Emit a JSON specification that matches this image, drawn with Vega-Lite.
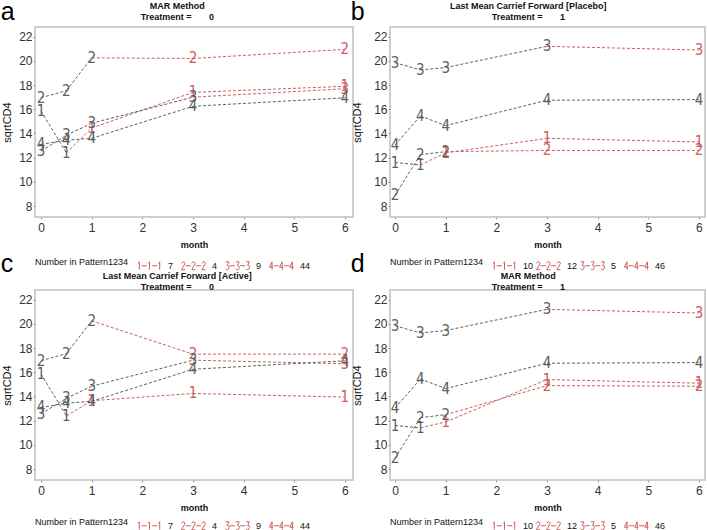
{
  "$schema": "https://vega.github.io/schema/vega-lite/v6.json",
  "padding": {"left": 0, "top": 0, "right": 0, "bottom": 0},
  "config": {
    "view": {"stroke": "#cfcfcf", "strokeWidth": 2},
    "font": "Liberation Sans",
    "title": {"font": "Liberation Sans", "fontSize": 9, "fontWeight": "bold", "color": "#111", "subtitleFont": "Liberation Sans", "subtitleFontSize": 9, "subtitleFontWeight": "bold", "subtitleColor": "#111", "subtitlePadding": 2},
    "axis": {"labelFont": "Liberation Sans", "labelFontSize": 12, "labelColor": "#333", "tickColor": "#999", "tickSize": 2, "domain": false, "grid": false, "titleFont": "Liberation Sans", "titleColor": "#111"},
    "axisX": {"labelPadding": 3, "titleFontSize": 9, "titleFontWeight": "bold", "titlePadding": 7},
    "axisY": {"labelPadding": 1, "titleFontSize": 11, "titleFontWeight": "normal", "titlePadding": 6},
    "legend": {"orient": "bottom", "direction": "horizontal", "titleOrient": "left", "titleFont": "Liberation Sans", "titleFontSize": 9, "titleFontWeight": "normal", "titleColor": "#111", "labelFont": "Liberation Sans", "labelFontSize": 9, "labelColor": "#111", "symbolSize": 576, "symbolStrokeWidth": 1, "symbolStrokeColor": "#cc6060", "symbolFillColor": "transparent", "symbolOpacity": 1, "labelOffset": 6, "columnPadding": 0, "gridAlign": "all", "offset": 3, "titlePadding": 8}
  },
  "data": {"values": [
    {"p":"a","pat":1,"n":7,"m":0,"v":15.85,"s":"obs"},
    {"p":"a","pat":1,"n":7,"m":0.5,"v":12.4,"s":"obs"},
    {"p":"a","pat":1,"n":7,"m":1,"v":14.45,"s":"imp"},
    {"p":"a","pat":1,"n":7,"m":3,"v":17.4,"s":"imp"},
    {"p":"a","pat":1,"n":7,"m":6,"v":17.9,"s":"imp"},
    {"p":"a","pat":2,"n":4,"m":0,"v":16.95,"s":"obs"},
    {"p":"a","pat":2,"n":4,"m":0.5,"v":17.55,"s":"obs"},
    {"p":"a","pat":2,"n":4,"m":1,"v":20.25,"s":"obs"},
    {"p":"a","pat":2,"n":4,"m":3,"v":20.2,"s":"imp"},
    {"p":"a","pat":2,"n":4,"m":6,"v":20.95,"s":"imp"},
    {"p":"a","pat":3,"n":9,"m":0,"v":12.55,"s":"obs"},
    {"p":"a","pat":3,"n":9,"m":0.5,"v":13.85,"s":"obs"},
    {"p":"a","pat":3,"n":9,"m":1,"v":14.85,"s":"obs"},
    {"p":"a","pat":3,"n":9,"m":3,"v":17.0,"s":"obs"},
    {"p":"a","pat":3,"n":9,"m":6,"v":17.7,"s":"imp"},
    {"p":"a","pat":4,"n":44,"m":0,"v":13.1,"s":"obs"},
    {"p":"a","pat":4,"n":44,"m":0.5,"v":13.45,"s":"obs"},
    {"p":"a","pat":4,"n":44,"m":1,"v":13.6,"s":"obs"},
    {"p":"a","pat":4,"n":44,"m":3,"v":16.25,"s":"obs"},
    {"p":"a","pat":4,"n":44,"m":6,"v":16.95,"s":"obs"},

    {"p":"b","pat":1,"n":10,"m":0,"v":11.6,"s":"obs"},
    {"p":"b","pat":1,"n":10,"m":0.5,"v":11.4,"s":"obs"},
    {"p":"b","pat":1,"n":10,"m":1,"v":12.4,"s":"imp"},
    {"p":"b","pat":1,"n":10,"m":3,"v":13.6,"s":"imp"},
    {"p":"b","pat":1,"n":10,"m":6,"v":13.3,"s":"imp"},
    {"p":"b","pat":2,"n":12,"m":0,"v":8.9,"s":"obs"},
    {"p":"b","pat":2,"n":12,"m":0.5,"v":12.25,"s":"obs"},
    {"p":"b","pat":2,"n":12,"m":1,"v":12.5,"s":"obs"},
    {"p":"b","pat":2,"n":12,"m":3,"v":12.6,"s":"imp"},
    {"p":"b","pat":2,"n":12,"m":6,"v":12.6,"s":"imp"},
    {"p":"b","pat":3,"n":5,"m":0,"v":19.85,"s":"obs"},
    {"p":"b","pat":3,"n":5,"m":0.5,"v":19.25,"s":"obs"},
    {"p":"b","pat":3,"n":5,"m":1,"v":19.45,"s":"obs"},
    {"p":"b","pat":3,"n":5,"m":3,"v":21.2,"s":"obs"},
    {"p":"b","pat":3,"n":5,"m":6,"v":20.9,"s":"imp"},
    {"p":"b","pat":4,"n":46,"m":0,"v":13.05,"s":"obs"},
    {"p":"b","pat":4,"n":46,"m":0.5,"v":15.45,"s":"obs"},
    {"p":"b","pat":4,"n":46,"m":1,"v":14.65,"s":"obs"},
    {"p":"b","pat":4,"n":46,"m":3,"v":16.75,"s":"obs"},
    {"p":"b","pat":4,"n":46,"m":6,"v":16.8,"s":"obs"},

    {"p":"c","pat":1,"n":7,"m":0,"v":15.85,"s":"obs"},
    {"p":"c","pat":1,"n":7,"m":0.5,"v":12.4,"s":"obs"},
    {"p":"c","pat":1,"n":7,"m":1,"v":13.65,"s":"imp"},
    {"p":"c","pat":1,"n":7,"m":3,"v":14.25,"s":"imp"},
    {"p":"c","pat":1,"n":7,"m":6,"v":13.95,"s":"imp"},
    {"p":"c","pat":2,"n":4,"m":0,"v":16.95,"s":"obs"},
    {"p":"c","pat":2,"n":4,"m":0.5,"v":17.55,"s":"obs"},
    {"p":"c","pat":2,"n":4,"m":1,"v":20.25,"s":"obs"},
    {"p":"c","pat":2,"n":4,"m":3,"v":17.5,"s":"imp"},
    {"p":"c","pat":2,"n":4,"m":6,"v":17.5,"s":"imp"},
    {"p":"c","pat":3,"n":9,"m":0,"v":12.55,"s":"obs"},
    {"p":"c","pat":3,"n":9,"m":0.5,"v":13.85,"s":"obs"},
    {"p":"c","pat":3,"n":9,"m":1,"v":14.85,"s":"obs"},
    {"p":"c","pat":3,"n":9,"m":3,"v":17.0,"s":"obs"},
    {"p":"c","pat":3,"n":9,"m":6,"v":16.7,"s":"imp"},
    {"p":"c","pat":4,"n":44,"m":0,"v":13.1,"s":"obs"},
    {"p":"c","pat":4,"n":44,"m":0.5,"v":13.45,"s":"obs"},
    {"p":"c","pat":4,"n":44,"m":1,"v":13.6,"s":"obs"},
    {"p":"c","pat":4,"n":44,"m":3,"v":16.25,"s":"obs"},
    {"p":"c","pat":4,"n":44,"m":6,"v":16.95,"s":"obs"},

    {"p":"d","pat":1,"n":10,"m":0,"v":11.6,"s":"obs"},
    {"p":"d","pat":1,"n":10,"m":0.5,"v":11.4,"s":"obs"},
    {"p":"d","pat":1,"n":10,"m":1,"v":11.9,"s":"imp"},
    {"p":"d","pat":1,"n":10,"m":3,"v":15.4,"s":"imp"},
    {"p":"d","pat":1,"n":10,"m":6,"v":15.1,"s":"imp"},
    {"p":"d","pat":2,"n":12,"m":0,"v":8.9,"s":"obs"},
    {"p":"d","pat":2,"n":12,"m":0.5,"v":12.25,"s":"obs"},
    {"p":"d","pat":2,"n":12,"m":1,"v":12.5,"s":"obs"},
    {"p":"d","pat":2,"n":12,"m":3,"v":14.9,"s":"imp"},
    {"p":"d","pat":2,"n":12,"m":6,"v":14.85,"s":"imp"},
    {"p":"d","pat":3,"n":5,"m":0,"v":19.85,"s":"obs"},
    {"p":"d","pat":3,"n":5,"m":0.5,"v":19.25,"s":"obs"},
    {"p":"d","pat":3,"n":5,"m":1,"v":19.45,"s":"obs"},
    {"p":"d","pat":3,"n":5,"m":3,"v":21.2,"s":"obs"},
    {"p":"d","pat":3,"n":5,"m":6,"v":20.9,"s":"imp"},
    {"p":"d","pat":4,"n":46,"m":0,"v":13.05,"s":"obs"},
    {"p":"d","pat":4,"n":46,"m":0.5,"v":15.45,"s":"obs"},
    {"p":"d","pat":4,"n":46,"m":1,"v":14.65,"s":"obs"},
    {"p":"d","pat":4,"n":46,"m":3,"v":16.75,"s":"obs"},
    {"p":"d","pat":4,"n":46,"m":6,"v":16.8,"s":"obs"}
  ]},
  "resolve": {"scale": {"shape": "independent", "x": "independent", "y": "independent"}, "legend": {"shape": "independent"}},
  "spacing": -20,
  "vconcat": [
    {
      "spacing": -4,
      "resolve": {"scale": {"shape": "independent", "x": "independent", "y": "independent"}, "legend": {"shape": "independent"}},
      "hconcat": [
        {
          "title": {"text": "a", "anchor": "start", "frame": "bounds", "fontSize": 25, "fontWeight": "normal", "color": "#000", "offset": -24},
          "vconcat": [
            {
              "width": 318, "height": 190,
              "title": {"text": "MAR Method", "subtitle": "Treatment =\u00a0\u00a0\u00a0\u00a0\u00a0\u00a0\u00a00", "anchor": "middle", "frame": "bounds", "offset": 5},
              "transform": [{"filter": "datum.p == 'a'"}],
              "encoding": {
                "x": {"field": "m", "type": "quantitative", "title": "month", "scale": {"domain": [-0.12, 6.16], "nice": false, "zero": false}, "axis": {"values": [0,1,2,3,4,5,6], "format": "d"}},
                "y": {"field": "v", "type": "quantitative", "title": "sqrtCD4", "scale": {"domain": [7.1, 22.8], "nice": false, "zero": false}, "axis": {"values": [8,10,12,14,16,18,20,22], "format": "d"}}
              },
              "layer": [
                {
                  "transform": [{"window": [{"op": "lead", "field": "m", "as": "m2"}, {"op": "lead", "field": "v", "as": "v2"}, {"op": "lead", "field": "s", "as": "s2"}], "groupby": ["pat"], "sort": [{"field": "m", "order": "ascending"}]}, {"filter": "datum.m2 != null"}],
                  "mark": {"type": "rule", "strokeDash": [3, 2], "strokeWidth": 1},
                  "encoding": {"x2": {"field": "m2"}, "y2": {"field": "v2"}, "color": {"field": "s2", "type": "nominal", "scale": {"domain": ["obs", "imp"], "range": ["#5f5f5f", "#cc6060"]}, "legend": null}}
                },
                {
                  "mark": {"type": "text", "font": "Liberation Sans Narrow, DejaVu Sans Condensed, sans-serif", "fontSize": 15, "baseline": "middle", "align": "center"},
                  "encoding": {"text": {"field": "pat", "type": "nominal"}, "color": {"field": "s", "type": "nominal", "scale": {"domain": ["obs", "imp"], "range": ["#5f5f5f", "#cc6060"]}, "legend": null}}
                },
                {
                  "mark": {"type": "point", "opacity": 0, "filled": false, "color": "#cc6060"},
                  "encoding": {"shape": {"field": "n", "type": "nominal", "sort": {"field": "pat", "op": "min"}, "title": "Number in Pattern1234",
                    "scale": {"range": [
                      "M-0.85,-0.33V0.33M-0.95,-0.2L-0.85,-0.33M0,-0.33V0.33M-0.1,-0.2L0,-0.33M0.85,-0.33V0.33M0.75,-0.2L0.85,-0.33M-0.65,0H-0.22M0.22,0H0.65",
                      "M-0.99,-0.2Q-0.95,-0.33,-0.85,-0.33Q-0.71,-0.33,-0.71,-0.18L-1,0.33H-0.7M-0.14,-0.2Q-0.1,-0.33,0,-0.33Q0.14,-0.33,0.14,-0.18L-0.15,0.33H0.15M0.71,-0.2Q0.75,-0.33,0.85,-0.33Q0.99,-0.33,0.99,-0.18L0.7,0.33H1M-0.65,0H-0.22M0.22,0H0.65",
                      "M-0.99,-0.33H-0.71L-0.85,-0.03Q-0.68,-0.03,-0.7,0.15Q-0.73,0.33,-0.85,0.33Q-0.95,0.33,-1,0.25M-0.14,-0.33H0.14L0,-0.03Q0.17,-0.03,0.15,0.15Q0.12,0.33,0,0.33Q-0.1,0.33,-0.15,0.25M0.71,-0.33H0.99L0.85,-0.03Q1.02,-0.03,1,0.15Q0.97,0.33,0.85,0.33Q0.75,0.33,0.7,0.25M-0.65,0H-0.22M0.22,0H0.65",
                      "M-0.79,0.33V-0.33L-1.01,0.12H-0.69M0.06,0.33V-0.33L-0.16,0.12H0.16M0.91,0.33V-0.33L0.69,0.12H1.01M-0.65,0H-0.22M0.22,0H0.65"
                    ]}}}
                }
              ]
            }
          ]
        },
        {
          "title": {"text": "b", "anchor": "start", "frame": "bounds", "fontSize": 25, "fontWeight": "normal", "color": "#000", "offset": -24},
          "vconcat": [
            {
              "width": 315, "height": 190,
              "title": {"text": "Last Mean Carrief Forward [Placebo]", "subtitle": "Treatment =\u00a0\u00a0\u00a0\u00a0\u00a0\u00a0\u00a01", "anchor": "middle", "frame": "bounds", "offset": 5},
              "transform": [{"filter": "datum.p == 'b'"}],
              "encoding": {
                "x": {"field": "m", "type": "quantitative", "title": "month", "scale": {"domain": [-0.1, 6.12], "nice": false, "zero": false}, "axis": {"values": [0,1,2,3,4,5,6], "format": "d"}},
                "y": {"field": "v", "type": "quantitative", "title": "sqrtCD4", "scale": {"domain": [7.1, 22.8], "nice": false, "zero": false}, "axis": {"values": [8,10,12,14,16,18,20,22], "format": "d", "titlePadding": 11}}
              },
              "layer": [
                {
                  "transform": [{"window": [{"op": "lead", "field": "m", "as": "m2"}, {"op": "lead", "field": "v", "as": "v2"}, {"op": "lead", "field": "s", "as": "s2"}], "groupby": ["pat"], "sort": [{"field": "m", "order": "ascending"}]}, {"filter": "datum.m2 != null"}],
                  "mark": {"type": "rule", "strokeDash": [3, 2], "strokeWidth": 1},
                  "encoding": {"x2": {"field": "m2"}, "y2": {"field": "v2"}, "color": {"field": "s2", "type": "nominal", "scale": {"domain": ["obs", "imp"], "range": ["#5f5f5f", "#cc6060"]}, "legend": null}}
                },
                {
                  "mark": {"type": "text", "font": "Liberation Sans Narrow, DejaVu Sans Condensed, sans-serif", "fontSize": 15, "baseline": "middle", "align": "center"},
                  "encoding": {"text": {"field": "pat", "type": "nominal"}, "color": {"field": "s", "type": "nominal", "scale": {"domain": ["obs", "imp"], "range": ["#5f5f5f", "#cc6060"]}, "legend": null}}
                },
                {
                  "mark": {"type": "point", "opacity": 0, "filled": false, "color": "#cc6060"},
                  "encoding": {"shape": {"field": "n", "type": "nominal", "sort": {"field": "pat", "op": "min"}, "title": "Number in Pattern1234",
                    "scale": {"range": [
                      "M-0.85,-0.33V0.33M-0.95,-0.2L-0.85,-0.33M0,-0.33V0.33M-0.1,-0.2L0,-0.33M0.85,-0.33V0.33M0.75,-0.2L0.85,-0.33M-0.65,0H-0.22M0.22,0H0.65",
                      "M-0.99,-0.2Q-0.95,-0.33,-0.85,-0.33Q-0.71,-0.33,-0.71,-0.18L-1,0.33H-0.7M-0.14,-0.2Q-0.1,-0.33,0,-0.33Q0.14,-0.33,0.14,-0.18L-0.15,0.33H0.15M0.71,-0.2Q0.75,-0.33,0.85,-0.33Q0.99,-0.33,0.99,-0.18L0.7,0.33H1M-0.65,0H-0.22M0.22,0H0.65",
                      "M-0.99,-0.33H-0.71L-0.85,-0.03Q-0.68,-0.03,-0.7,0.15Q-0.73,0.33,-0.85,0.33Q-0.95,0.33,-1,0.25M-0.14,-0.33H0.14L0,-0.03Q0.17,-0.03,0.15,0.15Q0.12,0.33,0,0.33Q-0.1,0.33,-0.15,0.25M0.71,-0.33H0.99L0.85,-0.03Q1.02,-0.03,1,0.15Q0.97,0.33,0.85,0.33Q0.75,0.33,0.7,0.25M-0.65,0H-0.22M0.22,0H0.65",
                      "M-0.79,0.33V-0.33L-1.01,0.12H-0.69M0.06,0.33V-0.33L-0.16,0.12H0.16M0.91,0.33V-0.33L0.69,0.12H1.01M-0.65,0H-0.22M0.22,0H0.65"
                    ]}}}
                }
              ]
            }
          ]
        }
      ]
    },
    {
      "spacing": -4,
      "resolve": {"scale": {"shape": "independent", "x": "independent", "y": "independent"}, "legend": {"shape": "independent"}},
      "hconcat": [
        {
          "title": {"text": "c", "anchor": "start", "frame": "bounds", "fontSize": 25, "fontWeight": "normal", "color": "#000", "offset": -6},
          "vconcat": [
            {
              "width": 318, "height": 190,
              "title": {"text": "Last Mean Carrief Forward [Active]", "subtitle": "Treatment =\u00a0\u00a0\u00a0\u00a0\u00a0\u00a0\u00a00", "anchor": "middle", "frame": "bounds", "offset": -2},
              "transform": [{"filter": "datum.p == 'c'"}],
              "encoding": {
                "x": {"field": "m", "type": "quantitative", "title": "month", "scale": {"domain": [-0.12, 6.16], "nice": false, "zero": false}, "axis": {"values": [0,1,2,3,4,5,6], "format": "d"}},
                "y": {"field": "v", "type": "quantitative", "title": "sqrtCD4", "scale": {"domain": [7.1, 22.8], "nice": false, "zero": false}, "axis": {"values": [8,10,12,14,16,18,20,22], "format": "d"}}
              },
              "layer": [
                {
                  "transform": [{"window": [{"op": "lead", "field": "m", "as": "m2"}, {"op": "lead", "field": "v", "as": "v2"}, {"op": "lead", "field": "s", "as": "s2"}], "groupby": ["pat"], "sort": [{"field": "m", "order": "ascending"}]}, {"filter": "datum.m2 != null"}],
                  "mark": {"type": "rule", "strokeDash": [3, 2], "strokeWidth": 1},
                  "encoding": {"x2": {"field": "m2"}, "y2": {"field": "v2"}, "color": {"field": "s2", "type": "nominal", "scale": {"domain": ["obs", "imp"], "range": ["#5f5f5f", "#cc6060"]}, "legend": null}}
                },
                {
                  "mark": {"type": "text", "font": "Liberation Sans Narrow, DejaVu Sans Condensed, sans-serif", "fontSize": 15, "baseline": "middle", "align": "center"},
                  "encoding": {"text": {"field": "pat", "type": "nominal"}, "color": {"field": "s", "type": "nominal", "scale": {"domain": ["obs", "imp"], "range": ["#5f5f5f", "#cc6060"]}, "legend": null}}
                },
                {
                  "mark": {"type": "point", "opacity": 0, "filled": false, "color": "#cc6060"},
                  "encoding": {"shape": {"field": "n", "type": "nominal", "sort": {"field": "pat", "op": "min"}, "title": "Number in Pattern1234", "legend": {"offset": 0},
                    "scale": {"range": [
                      "M-0.85,-0.33V0.33M-0.95,-0.2L-0.85,-0.33M0,-0.33V0.33M-0.1,-0.2L0,-0.33M0.85,-0.33V0.33M0.75,-0.2L0.85,-0.33M-0.65,0H-0.22M0.22,0H0.65",
                      "M-0.99,-0.2Q-0.95,-0.33,-0.85,-0.33Q-0.71,-0.33,-0.71,-0.18L-1,0.33H-0.7M-0.14,-0.2Q-0.1,-0.33,0,-0.33Q0.14,-0.33,0.14,-0.18L-0.15,0.33H0.15M0.71,-0.2Q0.75,-0.33,0.85,-0.33Q0.99,-0.33,0.99,-0.18L0.7,0.33H1M-0.65,0H-0.22M0.22,0H0.65",
                      "M-0.99,-0.33H-0.71L-0.85,-0.03Q-0.68,-0.03,-0.7,0.15Q-0.73,0.33,-0.85,0.33Q-0.95,0.33,-1,0.25M-0.14,-0.33H0.14L0,-0.03Q0.17,-0.03,0.15,0.15Q0.12,0.33,0,0.33Q-0.1,0.33,-0.15,0.25M0.71,-0.33H0.99L0.85,-0.03Q1.02,-0.03,1,0.15Q0.97,0.33,0.85,0.33Q0.75,0.33,0.7,0.25M-0.65,0H-0.22M0.22,0H0.65",
                      "M-0.79,0.33V-0.33L-1.01,0.12H-0.69M0.06,0.33V-0.33L-0.16,0.12H0.16M0.91,0.33V-0.33L0.69,0.12H1.01M-0.65,0H-0.22M0.22,0H0.65"
                    ]}}}
                }
              ]
            }
          ]
        },
        {
          "title": {"text": "d", "anchor": "start", "frame": "bounds", "fontSize": 25, "fontWeight": "normal", "color": "#000", "offset": -6},
          "vconcat": [
            {
              "width": 315, "height": 190,
              "title": {"text": "MAR Method", "subtitle": "Treatment =\u00a0\u00a0\u00a0\u00a0\u00a0\u00a0\u00a01", "anchor": "middle", "frame": "bounds", "offset": -2},
              "transform": [{"filter": "datum.p == 'd'"}],
              "encoding": {
                "x": {"field": "m", "type": "quantitative", "title": "month", "scale": {"domain": [-0.1, 6.12], "nice": false, "zero": false}, "axis": {"values": [0,1,2,3,4,5,6], "format": "d"}},
                "y": {"field": "v", "type": "quantitative", "title": "sqrtCD4", "scale": {"domain": [7.1, 22.8], "nice": false, "zero": false}, "axis": {"values": [8,10,12,14,16,18,20,22], "format": "d", "titlePadding": 11}}
              },
              "layer": [
                {
                  "transform": [{"window": [{"op": "lead", "field": "m", "as": "m2"}, {"op": "lead", "field": "v", "as": "v2"}, {"op": "lead", "field": "s", "as": "s2"}], "groupby": ["pat"], "sort": [{"field": "m", "order": "ascending"}]}, {"filter": "datum.m2 != null"}],
                  "mark": {"type": "rule", "strokeDash": [3, 2], "strokeWidth": 1},
                  "encoding": {"x2": {"field": "m2"}, "y2": {"field": "v2"}, "color": {"field": "s2", "type": "nominal", "scale": {"domain": ["obs", "imp"], "range": ["#5f5f5f", "#cc6060"]}, "legend": null}}
                },
                {
                  "mark": {"type": "text", "font": "Liberation Sans Narrow, DejaVu Sans Condensed, sans-serif", "fontSize": 15, "baseline": "middle", "align": "center"},
                  "encoding": {"text": {"field": "pat", "type": "nominal"}, "color": {"field": "s", "type": "nominal", "scale": {"domain": ["obs", "imp"], "range": ["#5f5f5f", "#cc6060"]}, "legend": null}}
                },
                {
                  "mark": {"type": "point", "opacity": 0, "filled": false, "color": "#cc6060"},
                  "encoding": {"shape": {"field": "n", "type": "nominal", "sort": {"field": "pat", "op": "min"}, "title": "Number in Pattern1234", "legend": {"offset": 0},
                    "scale": {"range": [
                      "M-0.85,-0.33V0.33M-0.95,-0.2L-0.85,-0.33M0,-0.33V0.33M-0.1,-0.2L0,-0.33M0.85,-0.33V0.33M0.75,-0.2L0.85,-0.33M-0.65,0H-0.22M0.22,0H0.65",
                      "M-0.99,-0.2Q-0.95,-0.33,-0.85,-0.33Q-0.71,-0.33,-0.71,-0.18L-1,0.33H-0.7M-0.14,-0.2Q-0.1,-0.33,0,-0.33Q0.14,-0.33,0.14,-0.18L-0.15,0.33H0.15M0.71,-0.2Q0.75,-0.33,0.85,-0.33Q0.99,-0.33,0.99,-0.18L0.7,0.33H1M-0.65,0H-0.22M0.22,0H0.65",
                      "M-0.99,-0.33H-0.71L-0.85,-0.03Q-0.68,-0.03,-0.7,0.15Q-0.73,0.33,-0.85,0.33Q-0.95,0.33,-1,0.25M-0.14,-0.33H0.14L0,-0.03Q0.17,-0.03,0.15,0.15Q0.12,0.33,0,0.33Q-0.1,0.33,-0.15,0.25M0.71,-0.33H0.99L0.85,-0.03Q1.02,-0.03,1,0.15Q0.97,0.33,0.85,0.33Q0.75,0.33,0.7,0.25M-0.65,0H-0.22M0.22,0H0.65",
                      "M-0.79,0.33V-0.33L-1.01,0.12H-0.69M0.06,0.33V-0.33L-0.16,0.12H0.16M0.91,0.33V-0.33L0.69,0.12H1.01M-0.65,0H-0.22M0.22,0H0.65"
                    ]}}}
                }
              ]
            }
          ]
        }
      ]
    }
  ]
}
